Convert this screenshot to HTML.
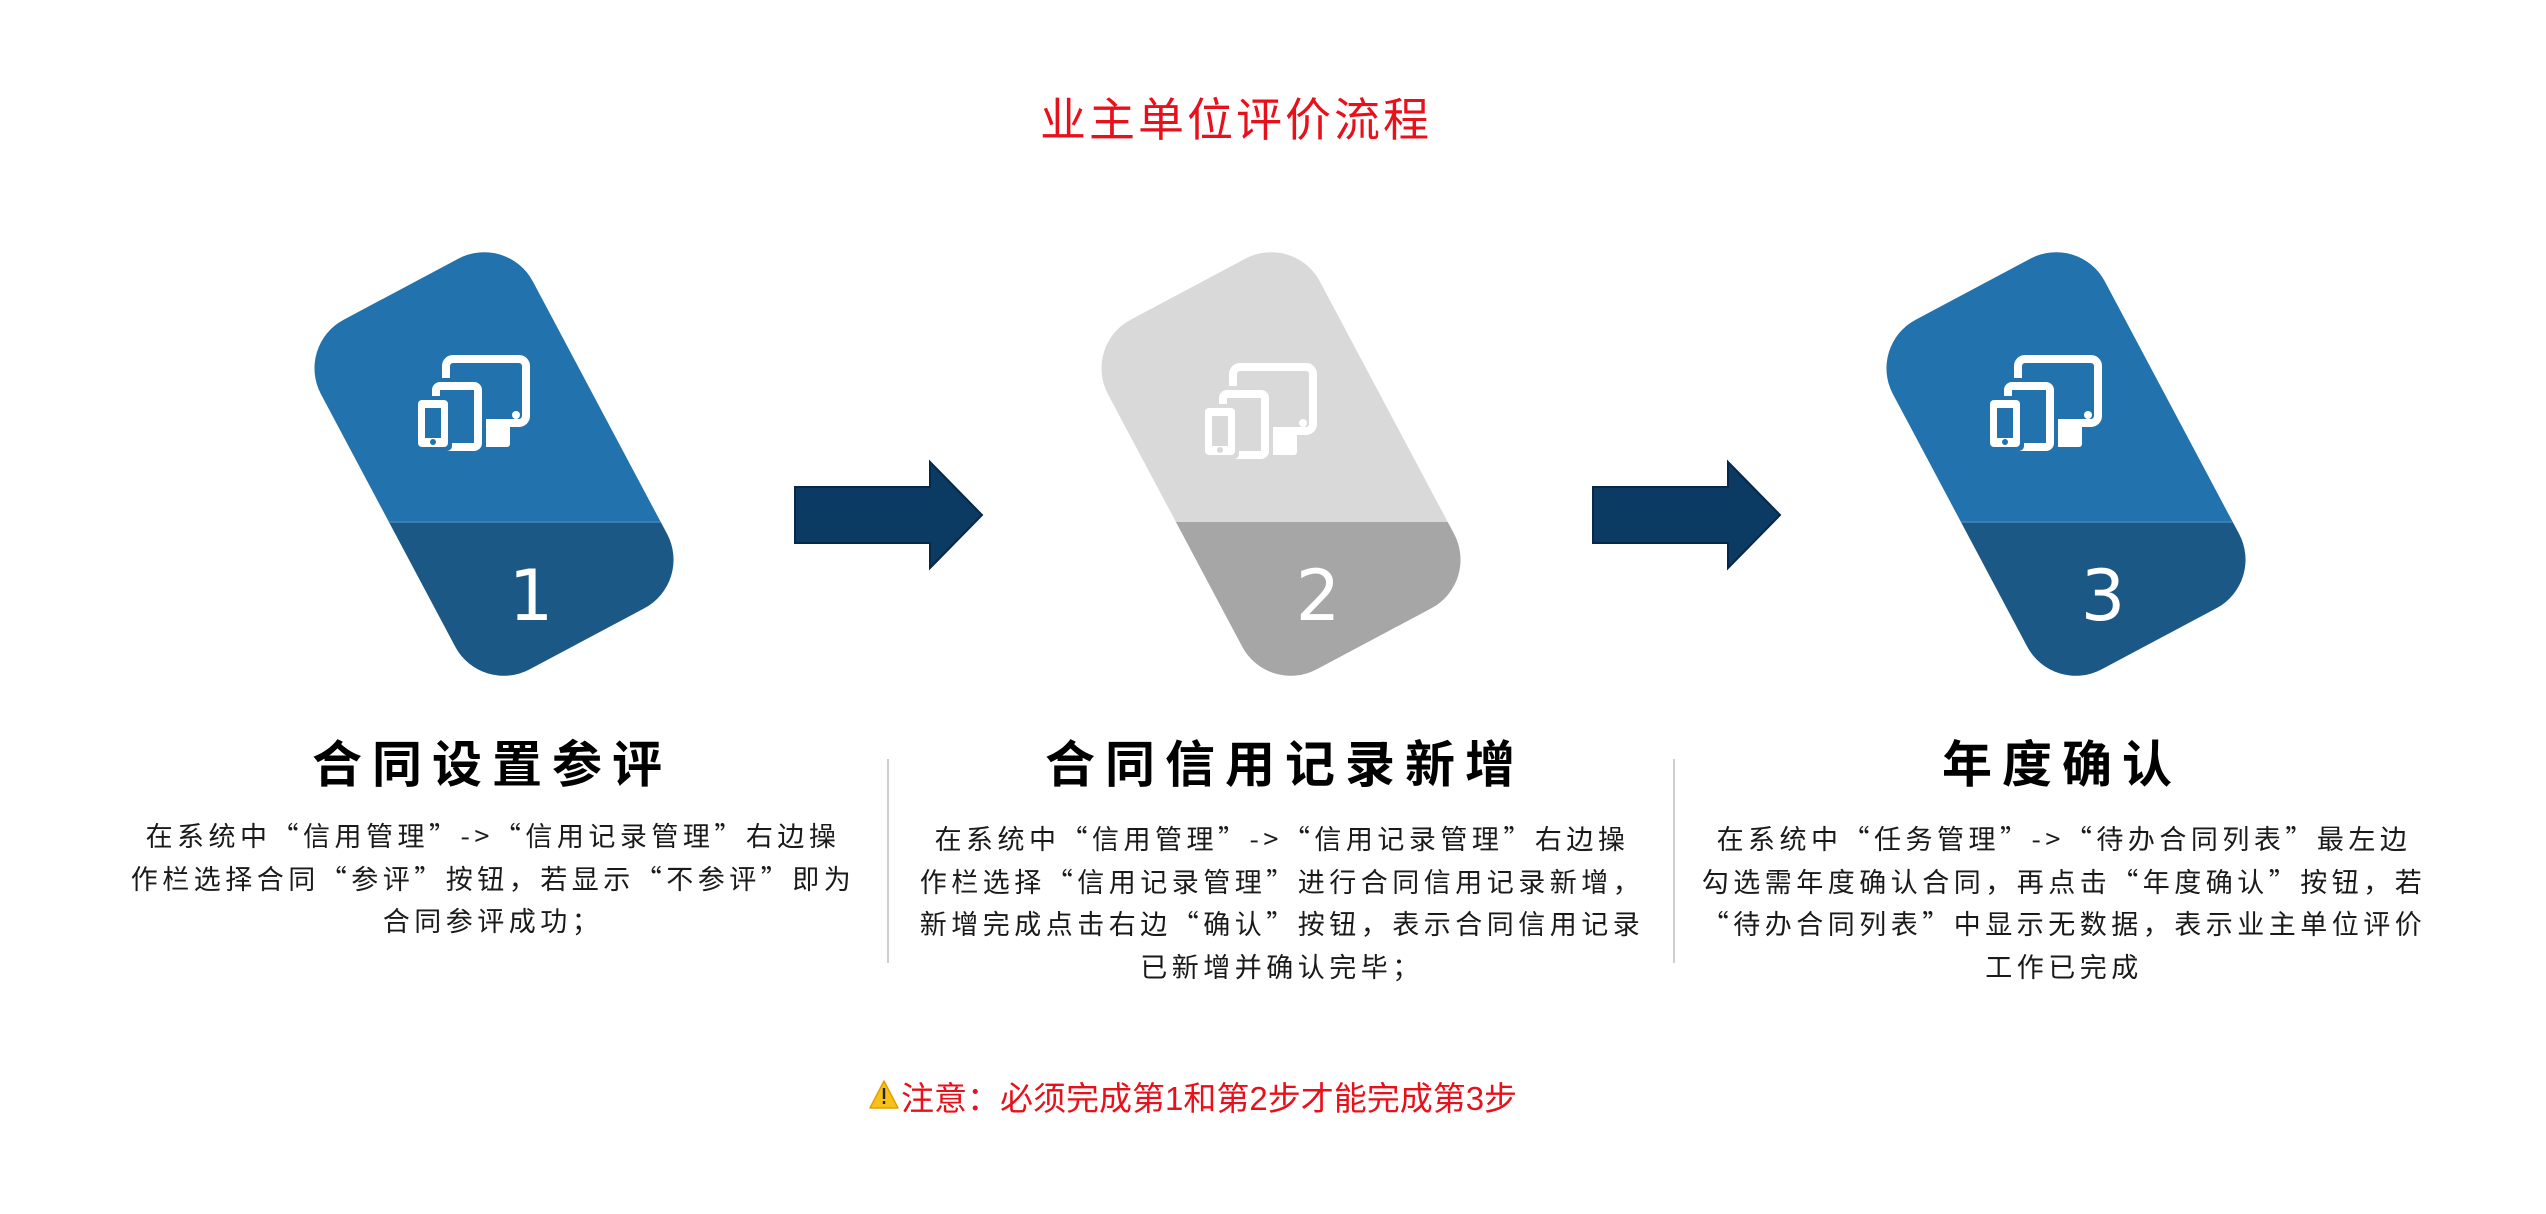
<!DOCTYPE html>
<html><head><meta charset="utf-8"><style>
html,body{margin:0;padding:0;background:#fff;}
svg{display:block;}
.t{font-family:"Liberation Sans","Noto Sans CJK SC",sans-serif;}
.b{font-family:"Noto Sans CJK SC","Liberation Sans",sans-serif;font-size:27px;fill:#1a1a1a;letter-spacing:4.5px;}
.h{font-family:"Noto Sans CJK SC","Liberation Sans",sans-serif;font-size:50px;font-weight:bold;fill:#000;letter-spacing:10px;}
.n{font-family:"DejaVu Sans","Liberation Sans",sans-serif;font-size:70px;fill:#fff;}
</style></head><body>
<svg width="2546" height="1214" viewBox="0 0 2546 1214" xmlns="http://www.w3.org/2000/svg">
<defs>
  <clipPath id="cc"><rect x="-120" y="-198" width="240" height="396" rx="55" transform="translate(494,464) rotate(-28)"/></clipPath>
</defs>

<text x="1236" y="136" text-anchor="middle" class="t" font-size="46" fill="#e8111b" letter-spacing="3">业主单位评价流程</text>

<g clip-path="url(#cc)">
  <rect x="250" y="200" width="500" height="322" fill="#2273ad"/>
  <rect x="250" y="522" width="500" height="220" fill="#1b5886"/>
  <line x1="250" y1="522" x2="750" y2="522" stroke="#4a86b5" stroke-width="1.5"/>
</g>
<text x="531" y="620" text-anchor="middle" class="n">1</text>

<g transform="translate(787,0)">
<g clip-path="url(#cc)">
  <rect x="250" y="200" width="500" height="322" fill="#d9d9d9"/>
  <rect x="250" y="522" width="500" height="220" fill="#a6a6a6"/>
</g>
<text x="531" y="620" text-anchor="middle" class="n">2</text>
</g>

<g transform="translate(1572,0)">
<g clip-path="url(#cc)">
  <rect x="250" y="200" width="500" height="322" fill="#2273ad"/>
  <rect x="250" y="522" width="500" height="220" fill="#1b5886"/>
  <line x1="250" y1="522" x2="750" y2="522" stroke="#4a86b5" stroke-width="1.5"/>
</g>
<text x="531" y="620" text-anchor="middle" class="n">3</text>
</g>

<g transform="translate(418,355)">
  <rect x="28" y="4" width="80" height="64" rx="7" fill="none" stroke="#fff" stroke-width="8"/>
  <circle cx="98" cy="60" r="4" fill="#fff"/>
  <rect x="66" y="66" width="26" height="26" rx="3" fill="#fff"/>
  <rect x="10" y="23" width="58" height="73" rx="5" fill="#2273ad"/>
  <rect x="18" y="31" width="42" height="61" rx="4" fill="none" stroke="#fff" stroke-width="8"/>
  <circle cx="26" cy="86" r="3.5" fill="#fff"/>
  <rect x="-4" y="41" width="38" height="55" rx="5" fill="#2273ad"/>
  <rect x="0" y="45" width="30" height="47" rx="4" fill="#fff"/>
  <rect x="7" y="53" width="16" height="30" fill="#2273ad"/>
  <circle cx="15" cy="87" r="3" fill="#2273ad"/>
</g>
<g transform="translate(1205,363)">
  <rect x="28" y="4" width="80" height="64" rx="7" fill="none" stroke="#fff" stroke-width="8"/>
  <circle cx="98" cy="60" r="4" fill="#fff"/>
  <rect x="66" y="66" width="26" height="26" rx="3" fill="#fff"/>
  <rect x="10" y="23" width="58" height="73" rx="5" fill="#d9d9d9"/>
  <rect x="18" y="31" width="42" height="61" rx="4" fill="none" stroke="#fff" stroke-width="8"/>
  <circle cx="26" cy="86" r="3.5" fill="#fff"/>
  <rect x="-4" y="41" width="38" height="55" rx="5" fill="#d9d9d9"/>
  <rect x="0" y="45" width="30" height="47" rx="4" fill="#fff"/>
  <rect x="7" y="53" width="16" height="30" fill="#d9d9d9"/>
  <circle cx="15" cy="87" r="3" fill="#d9d9d9"/>
</g>
<g transform="translate(1990,355)">
  <rect x="28" y="4" width="80" height="64" rx="7" fill="none" stroke="#fff" stroke-width="8"/>
  <circle cx="98" cy="60" r="4" fill="#fff"/>
  <rect x="66" y="66" width="26" height="26" rx="3" fill="#fff"/>
  <rect x="10" y="23" width="58" height="73" rx="5" fill="#2273ad"/>
  <rect x="18" y="31" width="42" height="61" rx="4" fill="none" stroke="#fff" stroke-width="8"/>
  <circle cx="26" cy="86" r="3.5" fill="#fff"/>
  <rect x="-4" y="41" width="38" height="55" rx="5" fill="#2273ad"/>
  <rect x="0" y="45" width="30" height="47" rx="4" fill="#fff"/>
  <rect x="7" y="53" width="16" height="30" fill="#2273ad"/>
  <circle cx="15" cy="87" r="3" fill="#2273ad"/>
</g>

<path d="M795,487 H930 V462 L982,515 L930,568 V543 H795 Z" fill="#0b3a63" stroke="#06284a" stroke-width="2"/>
<path d="M1593,487 H1728 V462 L1780,515 L1728,568 V543 H1593 Z" fill="#0b3a63" stroke="#06284a" stroke-width="2"/>

<text x="492" y="782" text-anchor="middle" class="h">合同设置参评</text>
<text x="1285" y="782" text-anchor="middle" class="h">合同信用记录新增</text>
<text x="2062" y="782" text-anchor="middle" class="h">年度确认</text>

<line x1="888" y1="759" x2="888" y2="963" stroke="#cfcfcf" stroke-width="2"/>
<line x1="1674" y1="759" x2="1674" y2="963" stroke="#cfcfcf" stroke-width="2"/>

<g text-anchor="middle" class="b">
<text x="493" y="846">在系统中“信用管理”->“信用记录管理”右边操</text>
<text x="493" y="889">作栏选择合同“参评”按钮，若显示“不参评”即为</text>
<text x="493" y="931">合同参评成功；</text>

<text x="1282" y="849">在系统中“信用管理”->“信用记录管理”右边操</text>
<text x="1282" y="892">作栏选择“信用记录管理”进行合同信用记录新增，</text>
<text x="1282" y="934">新增完成点击右边“确认”按钮，表示合同信用记录</text>
<text x="1282" y="977">已新增并确认完毕；</text>

<text x="2064" y="849">在系统中“任务管理”->“待办合同列表”最左边</text>
<text x="2064" y="892">勾选需年度确认合同，再点击“年度确认”按钮，若</text>
<text x="2064" y="934">“待办合同列表”中显示无数据，表示业主单位评价</text>
<text x="2064" y="977">工作已完成</text>
</g>

<path d="M884,1081 L898,1108 L870,1108 Z" fill="#f7c11a" stroke="#e0a000" stroke-width="1.5" stroke-linejoin="round"/>
<rect x="882.8" y="1088" width="2.4" height="11" fill="#222"/>
<rect x="882.8" y="1101" width="2.4" height="3" fill="#222"/>
<text x="901" y="1110" class="t" font-size="33" fill="#e8111b">注意：必须完成第1和第2步才能完成第3步</text>
</svg>
</body></html>
